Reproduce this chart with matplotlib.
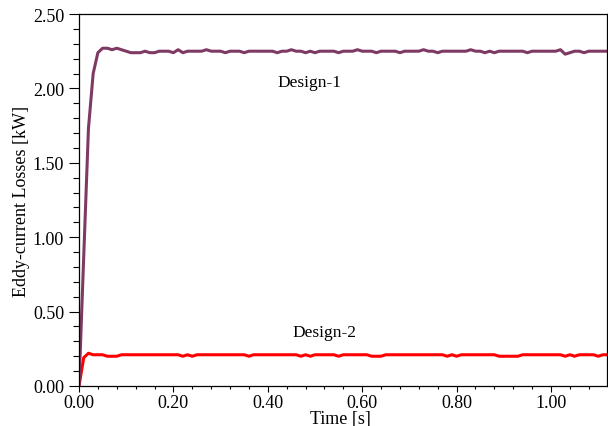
import matplotlib
matplotlib.use("Agg")
import matplotlib.pyplot as plt
import numpy as np
from matplotlib.ticker import MultipleLocator, FormatStrFormatter

plt.rcParams['font.family'] = ['Liberation Serif', 'DejaVu Serif']

time_step = 0.01
design1 = [0, 0.87, 1.73, 2.10, 2.24, 2.27, 2.27, 2.26, 2.27, 2.26,
           2.25, 2.24, 2.24, 2.24, 2.25, 2.24, 2.24, 2.25, 2.25, 2.25,
           2.24, 2.26, 2.24, 2.25, 2.25, 2.25, 2.25, 2.26, 2.25, 2.25,
           2.25, 2.24, 2.25, 2.25, 2.25, 2.24, 2.25, 2.25, 2.25, 2.25,
           2.25, 2.25, 2.24, 2.25, 2.25, 2.26, 2.25, 2.25, 2.24, 2.25,
           2.24, 2.25, 2.25, 2.25, 2.25, 2.24, 2.25, 2.25, 2.25, 2.26,
           2.25, 2.25, 2.25, 2.24, 2.25, 2.25, 2.25, 2.25, 2.24, 2.25,
           2.25, 2.25, 2.25, 2.26, 2.25, 2.25, 2.24, 2.25, 2.25, 2.25,
           2.25, 2.25, 2.25, 2.26, 2.25, 2.25, 2.24, 2.25, 2.24, 2.25,
           2.25, 2.25, 2.25, 2.25, 2.25, 2.24, 2.25, 2.25, 2.25, 2.25,
           2.25, 2.25, 2.26, 2.23, 2.24, 2.25, 2.25, 2.24, 2.25, 2.25,
           2.25, 2.25, 2.25]
design2 = [0, 0.19, 0.22, 0.21, 0.21, 0.21, 0.20, 0.20, 0.20, 0.21,
           0.21, 0.21, 0.21, 0.21, 0.21, 0.21, 0.21, 0.21, 0.21, 0.21,
           0.21, 0.21, 0.20, 0.21, 0.20, 0.21, 0.21, 0.21, 0.21, 0.21,
           0.21, 0.21, 0.21, 0.21, 0.21, 0.21, 0.20, 0.21, 0.21, 0.21,
           0.21, 0.21, 0.21, 0.21, 0.21, 0.21, 0.21, 0.20, 0.21, 0.20,
           0.21, 0.21, 0.21, 0.21, 0.21, 0.20, 0.21, 0.21, 0.21, 0.21,
           0.21, 0.21, 0.20, 0.20, 0.20, 0.21, 0.21, 0.21, 0.21, 0.21,
           0.21, 0.21, 0.21, 0.21, 0.21, 0.21, 0.21, 0.21, 0.20, 0.21,
           0.20, 0.21, 0.21, 0.21, 0.21, 0.21, 0.21, 0.21, 0.21, 0.20,
           0.20, 0.20, 0.20, 0.20, 0.21, 0.21, 0.21, 0.21, 0.21, 0.21,
           0.21, 0.21, 0.21, 0.20, 0.21, 0.20, 0.21, 0.21, 0.21, 0.21,
           0.20, 0.21, 0.21]
labels = ["Design-1", "Design-2"]
xlabel = "Time [s]"
ylabel = "Eddy-current Losses [kW]"

t = np.arange(len(design1)) * time_step

fig = plt.figure(figsize=(6.08, 4.27), dpi=100)
ax = fig.add_axes([79/608, 40/427, 528/608, 372/427])

ax.plot(t, design2, color='#ff0000', lw=2.2, solid_joinstyle='round')
ax.plot(t, design1, color='#7f3a64', lw=2.2, solid_joinstyle='round')

ax.set_xlim(0, 528/472)
ax.set_ylim(0, 2.5)

ax.xaxis.set_major_locator(MultipleLocator(0.2))
ax.xaxis.set_minor_locator(MultipleLocator(0.04))
ax.yaxis.set_major_locator(MultipleLocator(0.5))
ax.yaxis.set_minor_locator(MultipleLocator(0.1))
ax.xaxis.set_major_formatter(FormatStrFormatter('%.2f'))
ax.yaxis.set_major_formatter(FormatStrFormatter('%.2f'))

ax.tick_params(axis='y', which='major', direction='out', length=7.2, width=0.8, labelsize=13, pad=3.5)
ax.tick_params(axis='y', which='minor', direction='out', length=4, width=0.8)
ax.tick_params(axis='x', which='major', direction='out', length=4.5, width=0.8, labelsize=13, pad=1.5)
ax.tick_params(axis='x', which='minor', direction='out', length=2.5, width=0.8)

for s in ax.spines.values():
    s.set_linewidth(0.9)

ax.set_xlabel(xlabel, fontsize=13)
ax.set_ylabel(ylabel, fontsize=13)
ax.xaxis.set_label_coords((340-79)/528, (387-420)/372)
ax.xaxis.label.set_va('center')
ax.yaxis.set_label_coords((22-79)/528, 0.5)
ax.yaxis.label.set_va('center')

ax.text(0.489, 2.04, labels[0], fontsize=12.5, ha='center', va='center')
ax.text(0.52, 0.36, labels[1], fontsize=12.5, ha='center', va='center')

fig.savefig("out.png", dpi=100)
